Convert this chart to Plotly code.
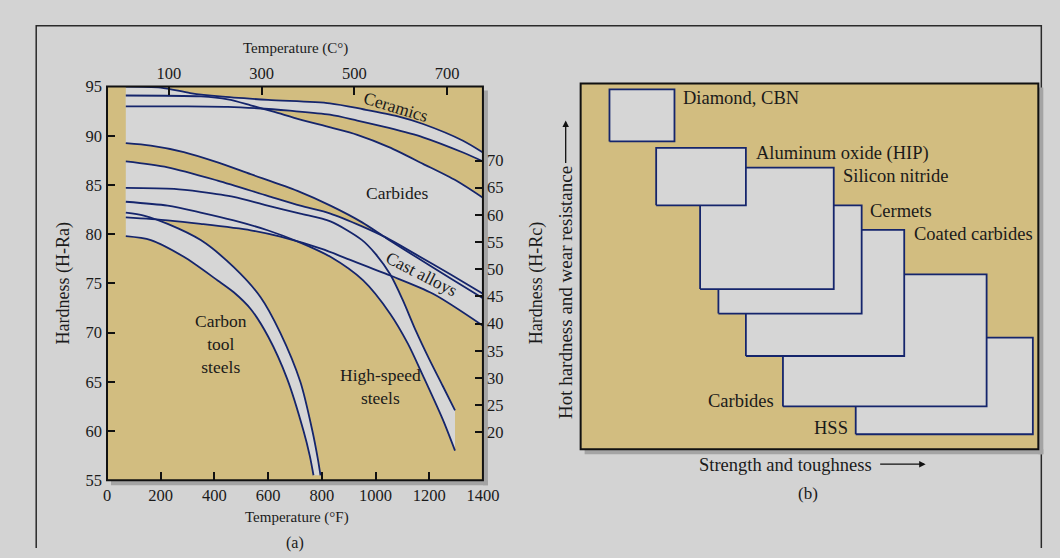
import plotly.graph_objects as go

# ---------------- data: hot hardness curves (temperature in F, hardness in H-Ra) ----------------
cer_top_F = [70, 200, 310, 420, 600, 830, 954, 1080, 1177, 1326, 1400]
cer_top_Ra = [95.0, 94.9, 94.35, 94.0, 93.65, 93.3, 92.7, 92.0, 91.2, 89.5, 88.3]
cer_bot_F = [70, 300, 450, 560, 680, 830, 932, 1050, 1177, 1326, 1400]
cer_bot_Ra = [93.0, 93.0, 92.95, 92.8, 92.55, 92.15, 91.55, 90.8, 89.85, 88.3, 87.4]

carb_top_F = [70, 350, 450, 535, 620, 720, 832, 932, 1050, 1177, 1300, 1400]
carb_top_Ra = [94.1, 94.0, 93.7, 93.1, 92.45, 91.65, 90.85, 90.1, 88.85, 87.15, 85.45, 83.7]
carb_bot_F = [70, 163, 286, 412, 535, 709, 832, 950, 1040, 1150, 1280, 1400]
carb_bot_Ra = [89.25, 89.0, 88.35, 87.3, 86.1, 84.4, 82.9, 81.2, 79.6, 77.7, 75.5, 73.5]

cast_top_F = [70, 226, 412, 598, 720, 832, 950, 1040, 1150, 1280, 1400]
cast_top_Ra = [87.4, 86.8, 85.45, 83.9, 82.9, 82.1, 80.8, 79.65, 77.95, 75.9, 73.95]
cast_bot_F = [70, 226, 349, 535, 646, 800, 895, 1055, 1214, 1400]
cast_bot_Ra = [81.7, 81.4, 81.05, 80.4, 79.75, 78.5, 77.5, 75.8, 73.95, 70.7]

hss_top_F = [70, 250, 350, 472, 598, 720, 832, 950, 1000, 1055, 1100, 1150, 1200, 1250, 1296]
hss_top_Ra = [84.7, 84.6, 84.3, 83.8, 82.9, 82.1, 81.3, 79.4, 78.0, 75.9, 73.4, 70.2, 67.3, 64.6, 62.1]
hss_bot_F = [70, 226, 349, 472, 598, 720, 832, 954, 1055, 1120, 1177, 1250, 1296]
hss_bot_Ra = [83.3, 82.9, 82.2, 81.4, 80.4, 79.15, 77.7, 75.3, 71.9, 68.9, 65.6, 61.2, 58.0]

cts_top_F = [70, 137, 226, 349, 472, 572, 645, 720, 765, 785, 795]
cts_top_Ra = [82.2, 81.9, 81.05, 79.4, 76.65, 73.6, 70.0, 65.0, 60.0, 57.2, 55.5]
cts_bot_F = [70, 163, 286, 412, 472, 535, 600, 671, 732, 755, 769]
cts_bot_Ra = [79.8, 79.4, 77.7, 75.3, 74.1, 72.4, 69.6, 65.3, 60.0, 57.5, 55.5]

# tick labels
f_ticks = [0, 200, 400, 600, 800, 1000, 1200, 1400]
c_ticks = [100, 300, 500, 700]
ra_ticks = [55, 60, 65, 70, 75, 80, 85, 90, 95]
rc_ticks = [20, 25, 30, 35, 40, 45, 50, 55, 60, 65, 70]

# ---------------- data: panel (b) relative positions ----------------
materials = ["HSS", "Carbides", "Coated carbides", "Cermets", "Silicon nitride",
             "Aluminum oxide (HIP)", "Diamond, CBN"]
tough_lo = [60.1, 44.2, 36.1, 30.1, 26.1, 16.5, 6.3]
tough_hi = [98.8, 88.7, 70.7, 61.4, 55.3, 36.1, 20.5]
hard_lo = [4.1, 11.7, 25.5, 37.1, 43.8, 66.7, 84.2]
hard_hi = [30.5, 47.8, 60.0, 66.7, 77.0, 82.4, 98.4]
label_u = [58.8, 42.6, 72.3, 62.7, 56.8, 37.9, 21.9]
label_v = [5.9, 13.2, 58.9, 65.1, 74.7, 81.0, 96.1]
label_side = ["right", "right", "left", "left", "left", "left", "left"]

# ---------------- styling / layout geometry ----------------
W, H = 1060, 558
# the photographed page is slightly scaled and offset; place elements so they land on target pixels
SX, SY = 0.983, 0.967
OXs, OYs = 2.7, 8.3
TAN = "#d2bd80"
GREY = "#d6d6d6"
PAGE = "#d3d3d3"
NAVY = "#15256c"
FONT = "Liberation Serif"
TXT = "#1a1a1a"


def px(x):
    return ((x - OXs) / SX) / W


def py(y):
    return 1 - ((y - OYs) / SY) / H


fig = go.Figure()

bands = [
    (cer_top_F, cer_top_Ra, cer_bot_F, cer_bot_Ra),
    (carb_top_F, carb_top_Ra, carb_bot_F, carb_bot_Ra),
    (cast_top_F, cast_top_Ra, cast_bot_F, cast_bot_Ra),
    (hss_top_F, hss_top_Ra, hss_bot_F, hss_bot_Ra),
    (cts_top_F, cts_top_Ra, cts_bot_F, cts_bot_Ra),
]

# band fills (invisible edges, spline to follow the curves)
for tf, tr, bf, br in bands:
    fig.add_trace(go.Scatter(x=tf, y=tr, mode="lines", line=dict(width=0, shape="spline", smoothing=0.8),
                             hoverinfo="skip", showlegend=False, xaxis="x", yaxis="y"))
    fig.add_trace(go.Scatter(x=bf, y=br, mode="lines", line=dict(width=0, shape="spline", smoothing=0.8),
                             fill="tonexty", fillcolor=GREY, hoverinfo="skip", showlegend=False,
                             xaxis="x", yaxis="y"))

# curve lines on top
for tf, tr, bf, br in bands:
    for fx, fy in ((tf, tr), (bf, br)):
        fig.add_trace(go.Scatter(x=fx, y=fy, mode="lines",
                                 line=dict(color=NAVY, width=1.8, shape="spline", smoothing=0.8),
                                 hoverinfo="skip", showlegend=False, xaxis="x", yaxis="y"))

# dummy traces to bind secondary axes
fig.add_trace(go.Scatter(x=[None], y=[None], xaxis="x3", yaxis="y", showlegend=False, hoverinfo="skip"))
fig.add_trace(go.Scatter(x=[None], y=[None], xaxis="x", yaxis="y2", showlegend=False, hoverinfo="skip"))

# panel (b) rectangles, bottom-most first
for i in range(len(materials)):
    x0, x1, y0, y1 = tough_lo[i], tough_hi[i], hard_lo[i], hard_hi[i]
    fig.add_trace(go.Scatter(x=[x0, x1, x1, x0, x0], y=[y0, y0, y1, y1, y0], mode="lines",
                             fill="toself", fillcolor=GREY, line=dict(color=NAVY, width=1.8),
                             hoverinfo="skip", showlegend=False, xaxis="x2", yaxis="y3"))

annotations = []
for i, m in enumerate(materials):
    annotations.append(dict(x=label_u[i], y=label_v[i], xref="x2", yref="y3", text=m, showarrow=False,
                            xanchor=label_side[i], yanchor="middle",
                            font=dict(family=FONT, size=18.5, color=TXT)))

# in-plot labels panel (a)
lab = dict(family=FONT, size=17.5, color=TXT)
annotations += [
    dict(x=1077, y=92.97, xref="x", yref="y", text="Ceramics", textangle=17, showarrow=False, font=lab),
    dict(x=1079, y=84.17, xref="x", yref="y", text="Carbides", showarrow=False, font=lab),
    dict(x=1172, y=75.98, xref="x", yref="y", text="Cast alloys", textangle=27, showarrow=False, font=lab),
    dict(x=423, y=68.86, xref="x", yref="y", text="Carbon<br>tool<br>steels", showarrow=False, font=lab),
    dict(x=1020, y=64.54, xref="x", yref="y", text="High-speed<br>steels", showarrow=False, font=lab),
]


# outside titles
def ptxt(x, y, t, ang=0, size=15):
    return dict(x=px(x), y=py(y), xref="paper", yref="paper", text=t, textangle=ang, showarrow=False,
                xanchor="center", yanchor="middle", font=dict(family=FONT, size=size, color=TXT))


annotations += [
    ptxt(295, 48, "Temperature (C°)"),
    ptxt(297, 517, "Temperature (°F)"),
    ptxt(295, 543, "(a)", size=16),
    ptxt(62, 283, "Hardness (H-Ra)", -90, size=18),
    ptxt(537, 283, "Hardness (H-Rc)", -90, size=18),
    ptxt(566, 292, "Hot hardness and wear resistance", -90, size=19),
    ptxt(786, 465, "Strength and toughness", size=18.5),
    ptxt(809, 493, "(b)", size=17),
    dict(x=px(566), y=py(120), ax=0, ay=44, xref="paper", yref="paper",
         text="", showarrow=True, arrowhead=2, arrowsize=1, arrowwidth=1.3, arrowcolor="#111"),
    dict(x=px(927), y=py(464), ax=-47, ay=0, xref="paper", yref="paper",
         text="", showarrow=True, arrowhead=2, arrowsize=1, arrowwidth=1.3, arrowcolor="#111"),
]

shapes = [
    # outer figure frame (open at the bottom)
    dict(type="path", xref="paper", yref="paper",
         path=f"M {px(35)},0 L {px(35)},{py(25)} L {px(1043)},{py(25)} L {px(1043)},0",
         line=dict(color="#2a2a2a", width=1.5), layer="below"),
    # shadows
    dict(type="rect", xref="paper", yref="paper", x0=px(483), x1=px(488), y0=py(485), y1=py(90),
         fillcolor="#a4a4a4", line=dict(width=0), layer="below"),
    dict(type="rect", xref="paper", yref="paper", x0=px(110), x1=px(488), y0=py(485), y1=py(480),
         fillcolor="#a4a4a4", line=dict(width=0), layer="below"),
    dict(type="rect", xref="paper", yref="paper", x0=px(1040), x1=px(1045), y0=py(454), y1=py(87),
         fillcolor="#a4a4a4", line=dict(width=0), layer="below"),
    dict(type="rect", xref="paper", yref="paper", x0=px(585), x1=px(1045), y0=py(454), y1=py(449),
         fillcolor="#a4a4a4", line=dict(width=0), layer="below"),
    # plot frames
    dict(type="rect", xref="paper", yref="paper", x0=px(106), x1=px(483), y0=py(480), y1=py(86),
         line=dict(color="#111", width=2)),
    dict(type="rect", xref="paper", yref="paper", x0=px(581), x1=px(1040), y0=py(449), y1=py(83),
         line=dict(color="#111", width=2)),
]

tickfont = dict(family=FONT, size=16.5, color=TXT)
common = dict(showgrid=False, zeroline=False, showline=False, ticks="inside", ticklen=8, tickwidth=1.6,
              tickcolor="#111", tickfont=tickfont, fixedrange=True)

fig.update_layout(
    width=W, height=H, autosize=False,
    margin=dict(l=0, r=0, t=0, b=0),
    paper_bgcolor=PAGE, plot_bgcolor=TAN,
    showlegend=False,
    xaxis=dict(domain=[px(106), px(483)], range=[0, 1400], tickvals=f_ticks, anchor="y",
               ticklabelstandoff=3, **common),
    xaxis3=dict(overlaying="x", side="top", range=[-33.3, 777.4], tickvals=c_ticks, anchor="y",
                ticklabelstandoff=3, **common),
    yaxis=dict(domain=[py(480), py(86)], range=[55, 95], tickvals=ra_ticks, anchor="x",
               ticklabelstandoff=4, **common),
    yaxis2=dict(overlaying="y", side="right", range=[11.18, 83.6], tickvals=rc_ticks, anchor="x",
                ticklabelstandoff=3, **common),
    xaxis2=dict(domain=[px(581), px(1040)], range=[0, 100], anchor="y3", showgrid=False, zeroline=False,
                showline=False, showticklabels=False, ticks="", fixedrange=True),
    yaxis3=dict(domain=[py(449), py(83)], range=[0, 100], anchor="x2", showgrid=False, zeroline=False,
                showline=False, showticklabels=False, ticks="", fixedrange=True),
    annotations=annotations,
    shapes=shapes,
)

fig.write_html(
    "out.html", config={"responsive": False, "displayModeBar": False},
    post_script="document.body.style.margin='0';document.body.style.overflow='hidden';"
                "document.documentElement.style.background='#d3d3d3';",
)
